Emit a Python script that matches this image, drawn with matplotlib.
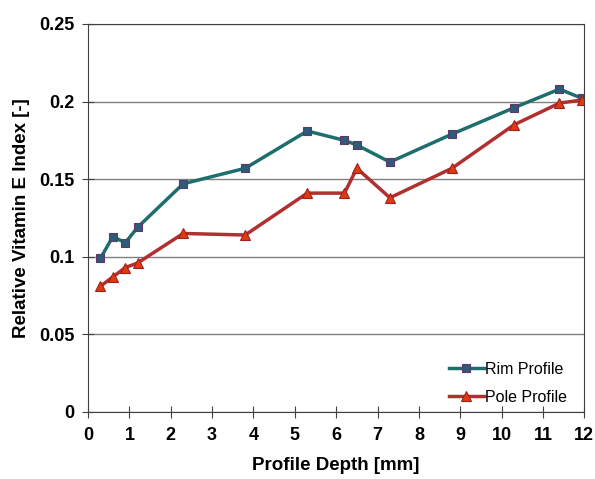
import matplotlib
matplotlib.use("Agg")
import matplotlib.pyplot as plt

plt.rcParams['font.family'] = ['Liberation Sans', 'DejaVu Sans']

depth = [0.3, 0.6, 0.9, 1.2, 2.3, 3.8, 5.3, 6.2, 6.5, 7.3, 8.8, 10.3, 11.4, 11.95]
rim = [0.099, 0.113, 0.109, 0.119, 0.147, 0.157, 0.181, 0.175, 0.172, 0.161, 0.179, 0.196, 0.208, 0.202]
pole = [0.081, 0.087, 0.093, 0.096, 0.115, 0.114, 0.141, 0.141, 0.157, 0.138, 0.157, 0.185, 0.199, 0.201]

fig = plt.figure(figsize=(5.95, 4.79), dpi=100)
ax = fig.add_axes([0.148, 0.14, 0.834, 0.81])

ax.plot(depth, rim, color='#1f6e6e', lw=2.5, marker='s', ms=6,
        mfc='#2f5a78', mec='#5a3a6a', mew=0.8, label='Rim Profile')
ax.plot(depth, pole, color='#b03030', lw=2.5, marker='^', ms=7,
        mfc='#e03a10', mec='#a02020', mew=0.8, label='Pole Profile')

ax.set_xlim(0, 12)
ax.set_ylim(0, 0.25)
ax.set_xticks(range(0, 13))
ax.set_yticks([0, 0.05, 0.1, 0.15, 0.2, 0.25])
ax.set_yticklabels(['0', '0.05', '0.1', '0.15', '0.2', '0.25'])
ax.yaxis.grid(True, color='#808080', lw=1)
ax.set_axisbelow(True)
for s in ax.spines.values():
    s.set_color('#404040')
ax.tick_params(direction='inout', length=9, color='#404040', labelsize=13)
ax.tick_params(axis='y', pad=5)
ax.tick_params(axis='x', pad=6)
for lab in ax.get_xticklabels() + ax.get_yticklabels():
    lab.set_fontweight('bold')

ax.set_xlabel('Profile Depth [mm]', fontsize=13.5, fontweight='bold', labelpad=10)
ax.set_ylabel('Relative Vitamin E Index [-]', fontsize=13.5, fontweight='bold', labelpad=7)

ax.legend(loc='lower right', bbox_to_anchor=(0.995, -0.018), frameon=False,
          fontsize=11.5, handlelength=2.2, handletextpad=0.1, labelspacing=0.8)

fig.savefig('out.png', dpi=100)
